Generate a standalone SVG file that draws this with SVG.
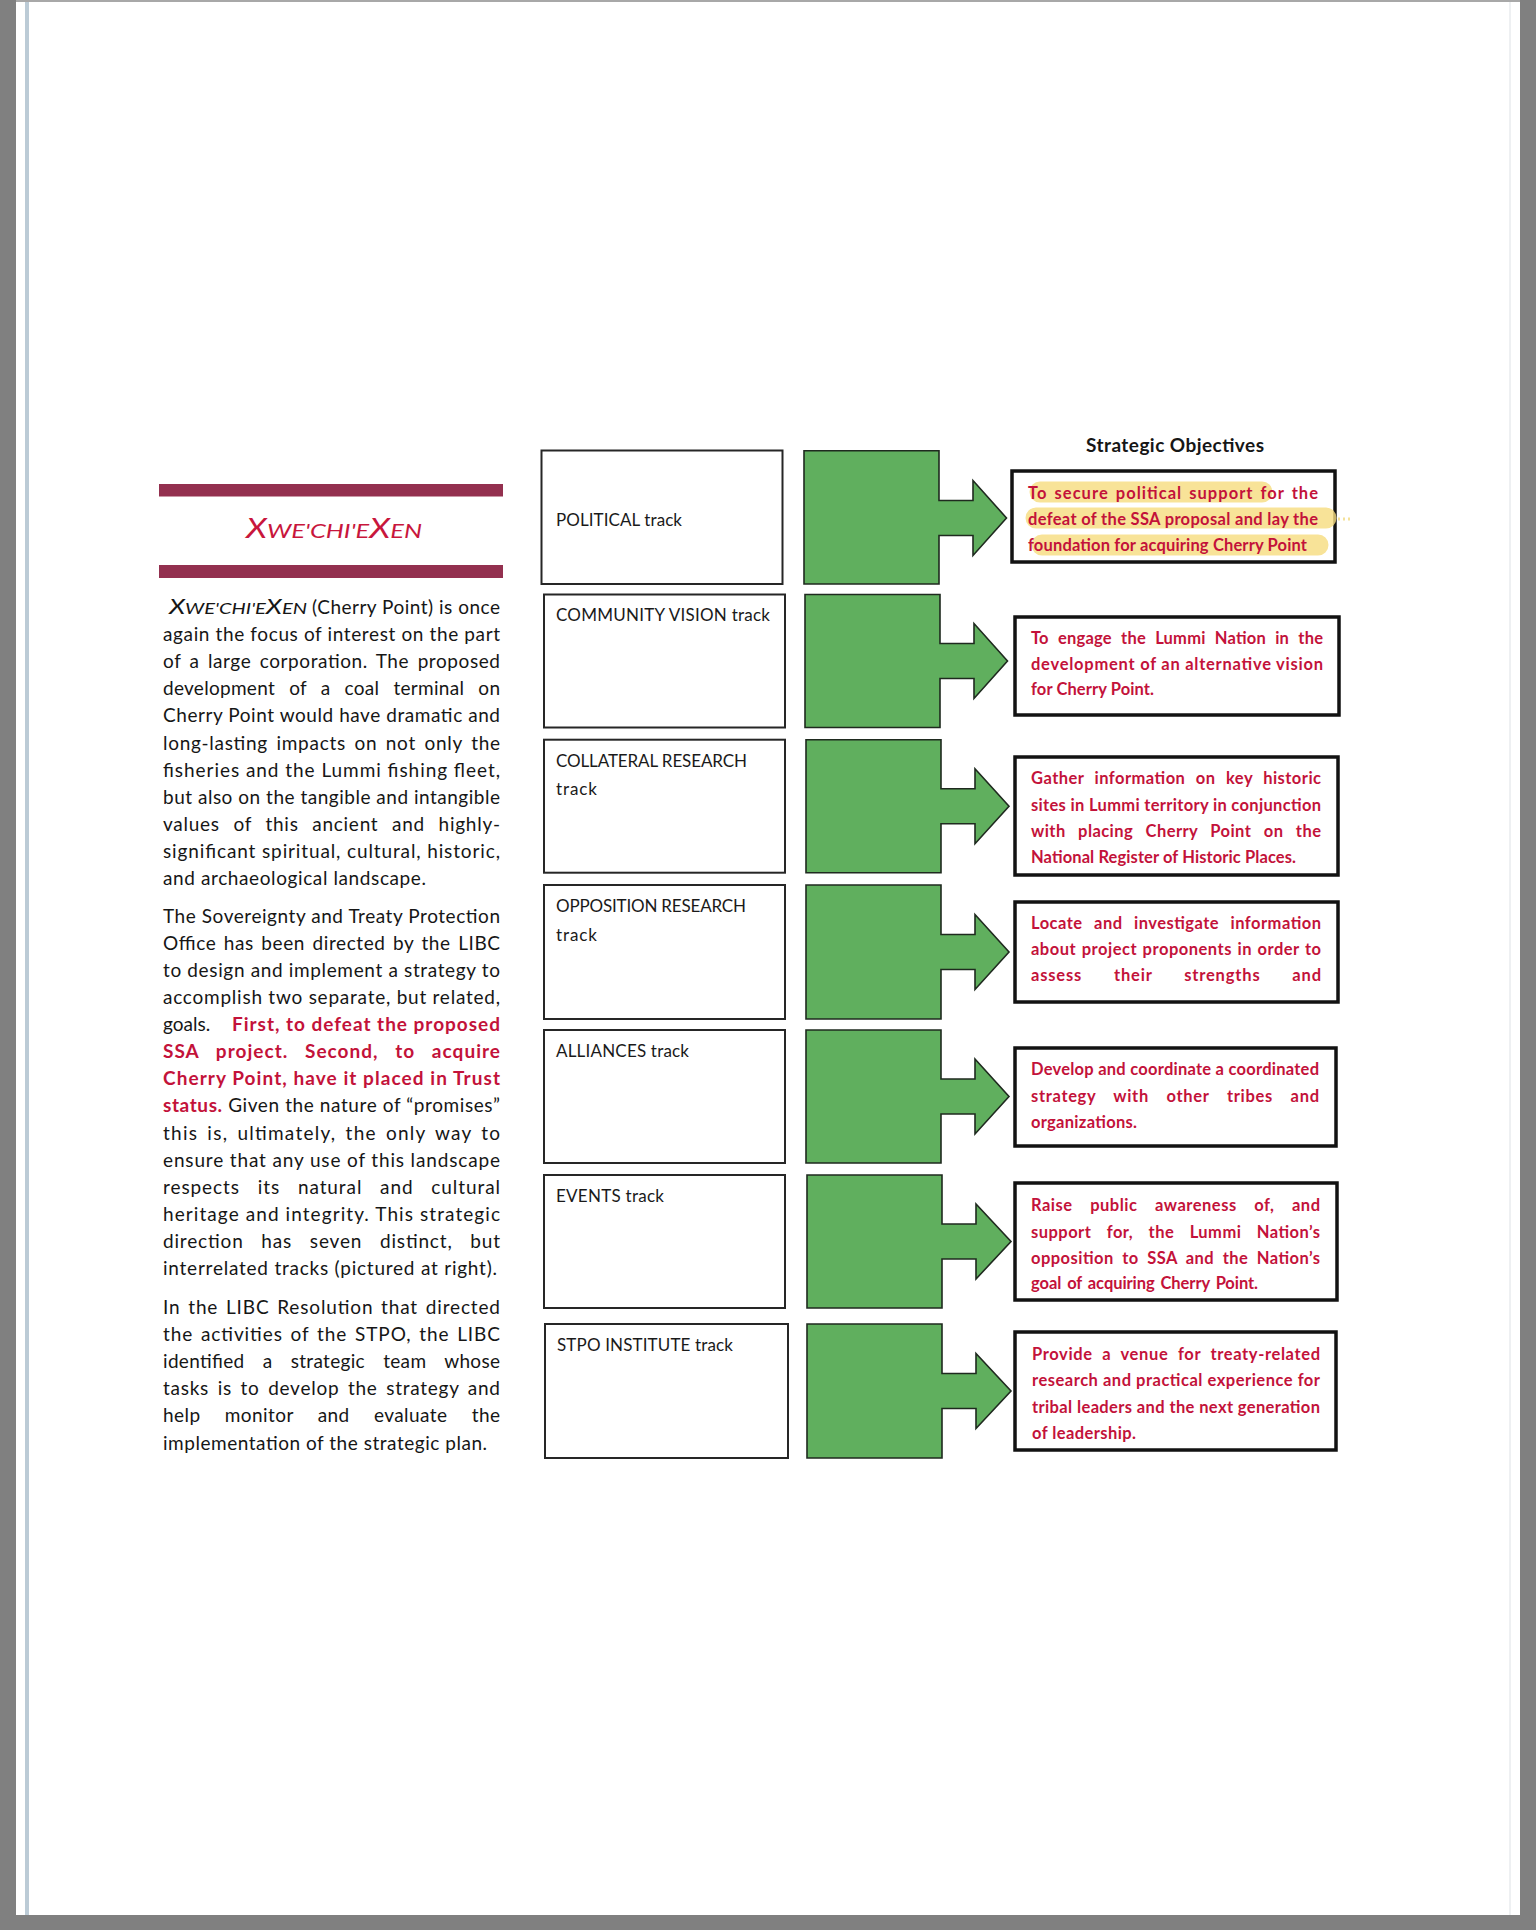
<svg xmlns="http://www.w3.org/2000/svg" width="1536" height="1930" viewBox="0 0 1536 1930">
<style>
.body{font-family:Lato,"Liberation Sans",sans-serif;font-size:19px;fill:#161616}
.red{fill:#C3123A;font-weight:bold}
.sc{font-family:Lato,"Liberation Sans",sans-serif;font-style:italic;fill:#161616}
.title{font-family:Lato,"Liberation Sans",sans-serif;font-style:italic;fill:#C8163C}
.bar{fill:#93304F}
.track{fill:#fff;stroke:#262626;stroke-width:2}
.tlabel{font-family:Lato,"Liberation Sans",sans-serif;font-size:17px;fill:#1a1a1a}
.green{fill:#60AF5E;stroke:#1f2a1f;stroke-width:1.6;stroke-linejoin:miter}
.obj{fill:#fff;stroke:#121212;stroke-width:3.5}
.otext{font-family:Lato,"Liberation Sans",sans-serif;font-size:16.5px;font-weight:bold;fill:#C3123A}
.head{font-family:Lato,"Liberation Sans",sans-serif;font-size:19px;font-weight:bold;fill:#161616}
.hl{fill:none;stroke:#F6DC7E;stroke-width:21;stroke-linecap:round;opacity:0.8}
</style>
<rect x="0" y="0" width="1536" height="1930" fill="#ffffff"/>
<rect x="0" y="0" width="16" height="1930" fill="#808080"/>
<rect x="1520" y="0" width="16" height="1930" fill="#808080"/>
<rect x="0" y="1915" width="1536" height="15" fill="#808080"/>
<rect x="16" y="0" width="1504" height="2" fill="#a8a8a8"/>
<rect x="25" y="2" width="4" height="1913" fill="#bccbd6"/>
<rect x="1509" y="2" width="2" height="1913" fill="#eef0f2"/>

<g id="sidebar">
<rect class="bar" x="159" y="484" width="344" height="12.5"/>
<rect class="bar" x="159" y="565" width="344" height="13"/>
<text class="title" x="246" y="538" textLength="176" lengthAdjust="spacingAndGlyphs"><tspan font-size="27">X</tspan><tspan font-size="20">WE'CHI'E</tspan><tspan font-size="27">X</tspan><tspan font-size="20">EN</tspan></text>

<text class="sc" x="169" y="614" textLength="138" lengthAdjust="spacingAndGlyphs"><tspan font-size="21">X</tspan><tspan font-size="16">WE'CHI'E</tspan><tspan font-size="21">X</tspan><tspan font-size="16">EN</tspan></text>
<text class="body" x="312" y="614" textLength="188" lengthAdjust="spacing">(Cherry Point) is once</text>
<text class="body" x="163" y="641.1" textLength="337" lengthAdjust="spacing">again the focus of interest on the part</text>
<text class="body" x="163" y="668.2" textLength="337" lengthAdjust="spacing" word-spacing="3">of a large corporation.  The proposed</text>
<text class="body" x="163" y="695.3" textLength="337" lengthAdjust="spacing" word-spacing="9">development of a coal terminal on</text>
<text class="body" x="163" y="722.4" textLength="337" lengthAdjust="spacing">Cherry Point would have dramatic and</text>
<text class="body" x="163" y="749.5" textLength="337" lengthAdjust="spacing" word-spacing="3">long-lasting impacts on not only the</text>
<text class="body" x="163" y="776.6" textLength="337" lengthAdjust="spacing">fisheries and the Lummi fishing fleet,</text>
<text class="body" x="163" y="803.7" textLength="337" lengthAdjust="spacing">but also on the tangible and intangible</text>
<text class="body" x="163" y="830.8" textLength="337" lengthAdjust="spacing" word-spacing="8">values of this ancient and highly-</text>
<text class="body" x="163" y="857.9" textLength="337" lengthAdjust="spacing">significant spiritual, cultural, historic,</text>
<text class="body" x="163" y="885" textLength="263" lengthAdjust="spacing">and archaeological landscape.</text>

<text class="body" x="163" y="922.7" textLength="337" lengthAdjust="spacing">The Sovereignty and Treaty Protection</text>
<text class="body" x="163" y="949.8" textLength="337" lengthAdjust="spacing" word-spacing="2">Office has been directed by the LIBC</text>
<text class="body" x="163" y="976.9" textLength="337" lengthAdjust="spacing">to design and implement a strategy to</text>
<text class="body" x="163" y="1004" textLength="337" lengthAdjust="spacing">accomplish two separate, but related,</text>
<text class="body" x="163" y="1031.1">goals.</text>
<text class="body red" x="232" y="1031.1" textLength="268" lengthAdjust="spacing">First, to defeat the proposed</text>
<text class="body red" x="163" y="1058.2" textLength="337" lengthAdjust="spacing" word-spacing="11">SSA project.  Second, to acquire</text>
<text class="body red" x="163" y="1085.3" textLength="337" lengthAdjust="spacing">Cherry Point, have it placed in Trust</text>
<text class="body" x="163" y="1112.4" textLength="337" lengthAdjust="spacing"><tspan class="red">status.</tspan> Given the nature of “promises”</text>
<text class="body" x="163" y="1139.5" textLength="337" lengthAdjust="spacing" word-spacing="3">this is, ultimately, the only way to</text>
<text class="body" x="163" y="1166.6" textLength="337" lengthAdjust="spacing">ensure that any use of this landscape</text>
<text class="body" x="163" y="1193.7" textLength="337" lengthAdjust="spacing" word-spacing="12">respects its natural and cultural</text>
<text class="body" x="163" y="1220.8" textLength="337" lengthAdjust="spacing">heritage and integrity. This strategic</text>
<text class="body" x="163" y="1247.9" textLength="337" lengthAdjust="spacing" word-spacing="12">direction has seven distinct, but</text>
<text class="body" x="163" y="1275" textLength="334" lengthAdjust="spacing">interrelated tracks (pictured at right).</text>

<text class="body" x="163" y="1314" textLength="337" lengthAdjust="spacing" word-spacing="2">In the LIBC Resolution that directed</text>
<text class="body" x="163" y="1341.1" textLength="337" lengthAdjust="spacing" word-spacing="2">the activities of the STPO, the LIBC</text>
<text class="body" x="163" y="1368.2" textLength="337" lengthAdjust="spacing" word-spacing="13">identified a strategic team whose</text>
<text class="body" x="163" y="1395.3" textLength="337" lengthAdjust="spacing" word-spacing="3">tasks is to develop the strategy and</text>
<text class="body" x="163" y="1422.4" textLength="337" lengthAdjust="spacing" word-spacing="19">help monitor and evaluate the</text>
<text class="body" x="163" y="1449.5" textLength="324" lengthAdjust="spacing">implementation of the strategic plan.</text>
</g>

<g id="track-political">
<rect class="track" x="541.5" y="450.5" width="241" height="133.5"/>
<text class="tlabel" x="556" y="526" textLength="126" lengthAdjust="spacing">POLITICAL track</text>
</g>
<g id="track-community">
<rect class="track" x="544" y="594.5" width="241" height="133"/>
<text class="tlabel" x="556" y="621" textLength="214" lengthAdjust="spacing">COMMUNITY VISION track</text>
</g>
<g id="track-collateral">
<rect class="track" x="544" y="739.7" width="241" height="133"/>
<text class="tlabel" x="556" y="766.5" textLength="191" lengthAdjust="spacing">COLLATERAL RESEARCH</text>
<text class="tlabel" x="556" y="795" textLength="41" lengthAdjust="spacing">track</text>
</g>
<g id="track-opposition">
<rect class="track" x="544" y="885" width="241" height="134"/>
<text class="tlabel" x="556" y="912" textLength="190" lengthAdjust="spacing">OPPOSITION RESEARCH</text>
<text class="tlabel" x="556" y="941" textLength="41" lengthAdjust="spacing">track</text>
</g>
<g id="track-alliances">
<rect class="track" x="544" y="1030" width="241" height="133"/>
<text class="tlabel" x="556" y="1057" textLength="133" lengthAdjust="spacing">ALLIANCES track</text>
</g>
<g id="track-events">
<rect class="track" x="544" y="1175" width="241" height="133"/>
<text class="tlabel" x="556" y="1202" textLength="108" lengthAdjust="spacing">EVENTS track</text>
</g>
<g id="track-stpo">
<rect class="track" x="545" y="1324" width="243" height="134"/>
<text class="tlabel" x="557" y="1351" textLength="176" lengthAdjust="spacing">STPO INSTITUTE track</text>
</g>

<g id="connectors">
<path class="green" d="M804,450.7 H939 V500.5 H973 V480.5 L1006.5,518 L973,555.5 V535.5 H939 V584 H804 Z"/>
<path class="green" d="M805,594.5 H940 V643.5 H974 V623.5 L1007.5,661 L974,698.5 V678.5 H940 V727.5 H805 Z"/>
<path class="green" d="M806,739.7 H941 V788.7 H975 V768.7 L1009,806.2 L975,843.7 V823.7 H941 V872.7 H806 Z"/>
<path class="green" d="M806,885 H941 V934.5 H975 V914.5 L1009,952 L975,989.5 V969.5 H941 V1019 H806 Z"/>
<path class="green" d="M806,1030 H941 V1079 H975 V1059 L1009,1096.5 L975,1134 V1114 H941 V1163 H806 Z"/>
<path class="green" d="M807,1175 H942 V1224 H976 V1204 L1011,1241.5 L976,1279 V1259 H942 V1308 H807 Z"/>
<path class="green" d="M807,1324 H942 V1373.5 H976 V1353.5 L1011,1391 L976,1428.5 V1408.5 H942 V1458 H807 Z"/>
</g>

<g id="objectives-heading">
<text class="head" x="1175" y="452" text-anchor="middle" textLength="178" lengthAdjust="spacing">Strategic Objectives</text>
</g>

<g id="objective-political">
<rect class="obj" x="1012" y="471" width="323" height="91"/>
<path class="hl" d="M1040,492 H1262 M1036,518 H1326 M1042,545 H1318"/>
<path d="M1338,519 H1352" stroke="#F0D56E" stroke-width="3" stroke-dasharray="2 3" opacity="0.7"/>
<text class="otext" x="1028" y="498.5" textLength="290" lengthAdjust="spacing" word-spacing="2">To secure political support for the</text>
<text class="otext" x="1028" y="525" textLength="290" lengthAdjust="spacing">defeat of the SSA proposal and lay the</text>
<text class="otext" x="1028" y="551" textLength="279" lengthAdjust="spacing">foundation for acquiring Cherry Point</text>
</g>
<g id="objective-community">
<rect class="obj" x="1015" y="617" width="324" height="98"/>
<text class="otext" x="1031" y="643.5" textLength="292" lengthAdjust="spacing" word-spacing="5">To engage the Lummi Nation in the</text>
<text class="otext" x="1031" y="669.5" textLength="292" lengthAdjust="spacing">development of an alternative vision</text>
<text class="otext" x="1031" y="695" textLength="123" lengthAdjust="spacing">for Cherry Point.</text>
</g>
<g id="objective-collateral">
<rect class="obj" x="1015" y="757" width="323" height="118"/>
<text class="otext" x="1031" y="784" textLength="290" lengthAdjust="spacing" word-spacing="6">Gather information on key historic</text>
<text class="otext" x="1031" y="811" textLength="290" lengthAdjust="spacing">sites in Lummi territory in conjunction</text>
<text class="otext" x="1031" y="837" textLength="290" lengthAdjust="spacing" word-spacing="8">with placing Cherry Point on the</text>
<text class="otext" x="1031" y="863" textLength="265" lengthAdjust="spacing">National Register of Historic Places.</text>
</g>
<g id="objective-opposition">
<rect class="obj" x="1015" y="902" width="323" height="100"/>
<text class="otext" x="1031" y="928.7" textLength="290" lengthAdjust="spacing" word-spacing="7">Locate and investigate information</text>
<text class="otext" x="1031" y="955" textLength="290" lengthAdjust="spacing" word-spacing="1">about project proponents in order to</text>
<text class="otext" x="1031" y="981" textLength="290" lengthAdjust="spacing" word-spacing="27">assess their strengths and</text>
</g>
<g id="objective-alliances">
<rect class="obj" x="1015" y="1048" width="321" height="98"/>
<text class="otext" x="1031" y="1075" textLength="288" lengthAdjust="spacing">Develop and coordinate a coordinated</text>
<text class="otext" x="1031" y="1102" textLength="288" lengthAdjust="spacing" word-spacing="13">strategy with other tribes and</text>
<text class="otext" x="1031" y="1127.7" textLength="106" lengthAdjust="spacing">organizations.</text>
</g>
<g id="objective-events">
<rect class="obj" x="1015" y="1183" width="322" height="117"/>
<text class="otext" x="1031" y="1211" textLength="289" lengthAdjust="spacing" word-spacing="13">Raise public awareness of, and</text>
<text class="otext" x="1031" y="1238" textLength="289" lengthAdjust="spacing" word-spacing="11">support for, the Lummi Nation’s</text>
<text class="otext" x="1031" y="1264" textLength="289" lengthAdjust="spacing" word-spacing="4">opposition to SSA and the Nation’s</text>
<text class="otext" x="1031" y="1289" textLength="227" lengthAdjust="spacing" word-spacing="2">goal of acquiring  Cherry Point.</text>
</g>
<g id="objective-stpo">
<rect class="obj" x="1015" y="1332" width="321" height="118"/>
<text class="otext" x="1032" y="1360" textLength="288" lengthAdjust="spacing" word-spacing="5">Provide a venue for treaty-related</text>
<text class="otext" x="1032" y="1386" textLength="288" lengthAdjust="spacing">research and practical experience for</text>
<text class="otext" x="1032" y="1412.5" textLength="288" lengthAdjust="spacing">tribal leaders and the next generation</text>
<text class="otext" x="1032" y="1438.5" textLength="104" lengthAdjust="spacing">of leadership.</text>
</g>
</svg>
